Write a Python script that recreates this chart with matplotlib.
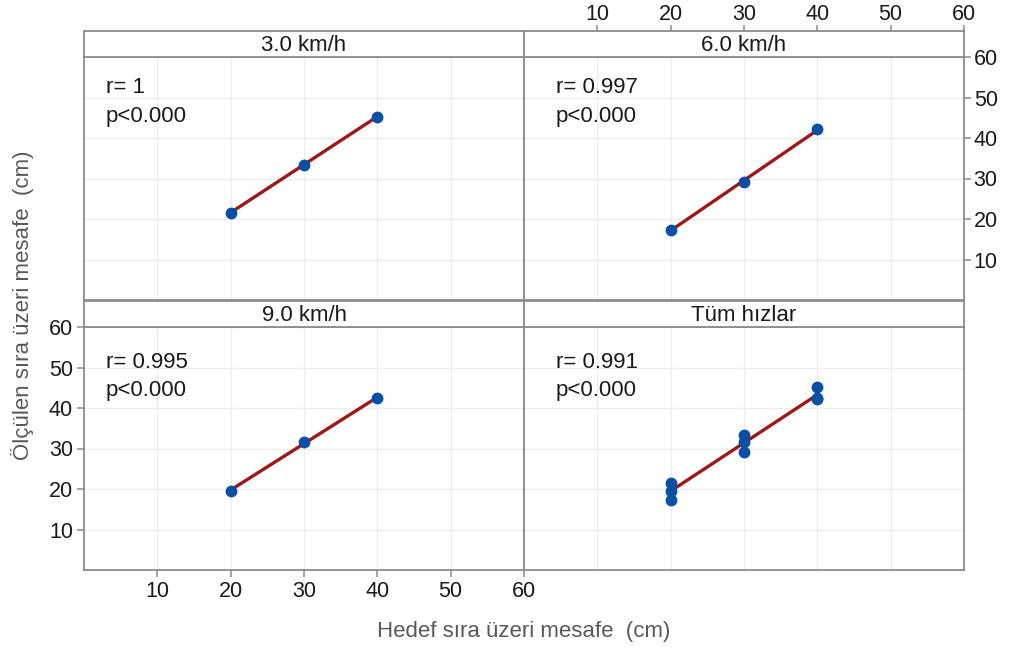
import numpy as np
import matplotlib.pyplot as plt

plt.rcParams['font.family'] = ['Liberation Sans', 'DejaVu Sans']

# data
panel_titles = ["3.0 km/h", "6.0 km/h", "9.0 km/h", "Tüm hızlar"]
target = [20, 30, 40]
measured_3 = [21.6, 33.4, 45.3]
measured_6 = [17.3, 29.2, 42.1]
measured_9 = [19.6, 31.5, 42.5]
r_labels = ["1", "0.997", "0.995", "0.991"]
p_label = "p<0.000"
ticks = [10, 20, 30, 40, 50, 60]

all_x = target * 3
all_y = measured_3 + measured_6 + measured_9
panel_data = [(target, measured_3), (target, measured_6),
              (target, measured_9), (all_x, all_y)]

W, H = 1012, 650
fig = plt.figure(figsize=(W / 100, H / 100), dpi=100)

frame_col = "#8c8c8c"
point_col = "#0a4fa3"
line_col = "#9e1818"
grid_col = "#ececec"
text_col = "#1a1a1a"
fs = 16

# (panel top px, panel bottom px, strip top px)
col_left = [84, 524]
rows = [(57, 300, 31), (327, 570, 301)]
pw = 440

for i, title in enumerate(panel_titles):
    c, r = i % 2, i // 2
    ptop, pbot, stop = rows[r]
    x0 = col_left[c] / W
    ax = fig.add_axes([x0, (H - pbot) / H, pw / W, (pbot - ptop) / H])
    sax = fig.add_axes([x0, (H - ptop) / H, pw / W, (ptop - stop) / H])

    ax.set_xlim(0, 60)
    ax.set_ylim(0, 60)
    ax.set_xticks(ticks[:-1])
    ax.set_yticks(ticks[:-1])
    ax.grid(True, color=grid_col, lw=0.9)
    ax.set_axisbelow(True)
    for s in ax.spines.values():
        s.set_color(frame_col)
        s.set_linewidth(1.3)
    ax.tick_params(length=0, labelbottom=False, labelleft=False)

    xs, ys = panel_data[i]
    k, b = np.polyfit(xs, ys, 1)
    lx = np.array([min(xs), max(xs)])
    ax.plot(lx, k * lx + b, color=line_col, lw=2.4, zorder=2)
    ax.plot(xs, ys, 'o', color=point_col, ms=7.5, zorder=3)

    tx = 3.0 if c == 0 else 4.3
    ty = 52.4 if r == 0 else 51.2
    ax.text(tx, ty, "r= " + r_labels[i], fontsize=fs, color=text_col, va="center")
    ax.text(tx, ty - 7.0, p_label, fontsize=fs, color=text_col, va="center")

    # strip
    sax.set_xlim(0, 60)
    sax.set_yticks([])
    sax.set_xticks([])
    for s in sax.spines.values():
        s.set_color(frame_col)
        s.set_linewidth(1.3)
    sax.text(0.5, 0.45, title, transform=sax.transAxes, ha="center",
             va="center", fontsize=fs, color=text_col)

    if i == 1:
        sax.set_xticks(ticks)
        sax.xaxis.tick_top()
        sax.tick_params(axis="x", length=4, width=1.1, color=frame_col,
                        labelsize=15.5, labelcolor=text_col, pad=0)
        ax.yaxis.tick_right()
        ax.set_yticks(ticks)
        ax.tick_params(axis="y", length=5, width=1.1, color=frame_col,
                       labelright=True, labelsize=15.5, labelcolor=text_col, pad=2)
    if i == 2:
        ax.set_xticks(ticks)
        ax.set_yticks(ticks)
        ax.tick_params(length=5, width=1.1, color=frame_col, labelbottom=True,
                       labelleft=True, labelsize=15.5, labelcolor=text_col, pad=3)

fig.text(524 / W, 1 - 631 / H, "Hedef sıra üzeri mesafe  (cm)", ha="center",
         va="center", fontsize=fs, color="#595959")
fig.text(22 / W, 1 - 305 / H, "Ölçülen sıra üzeri mesafe  (cm)", ha="center",
         va="center", rotation=90, fontsize=fs, color="#595959")

fig.savefig("out.png", dpi=100)
